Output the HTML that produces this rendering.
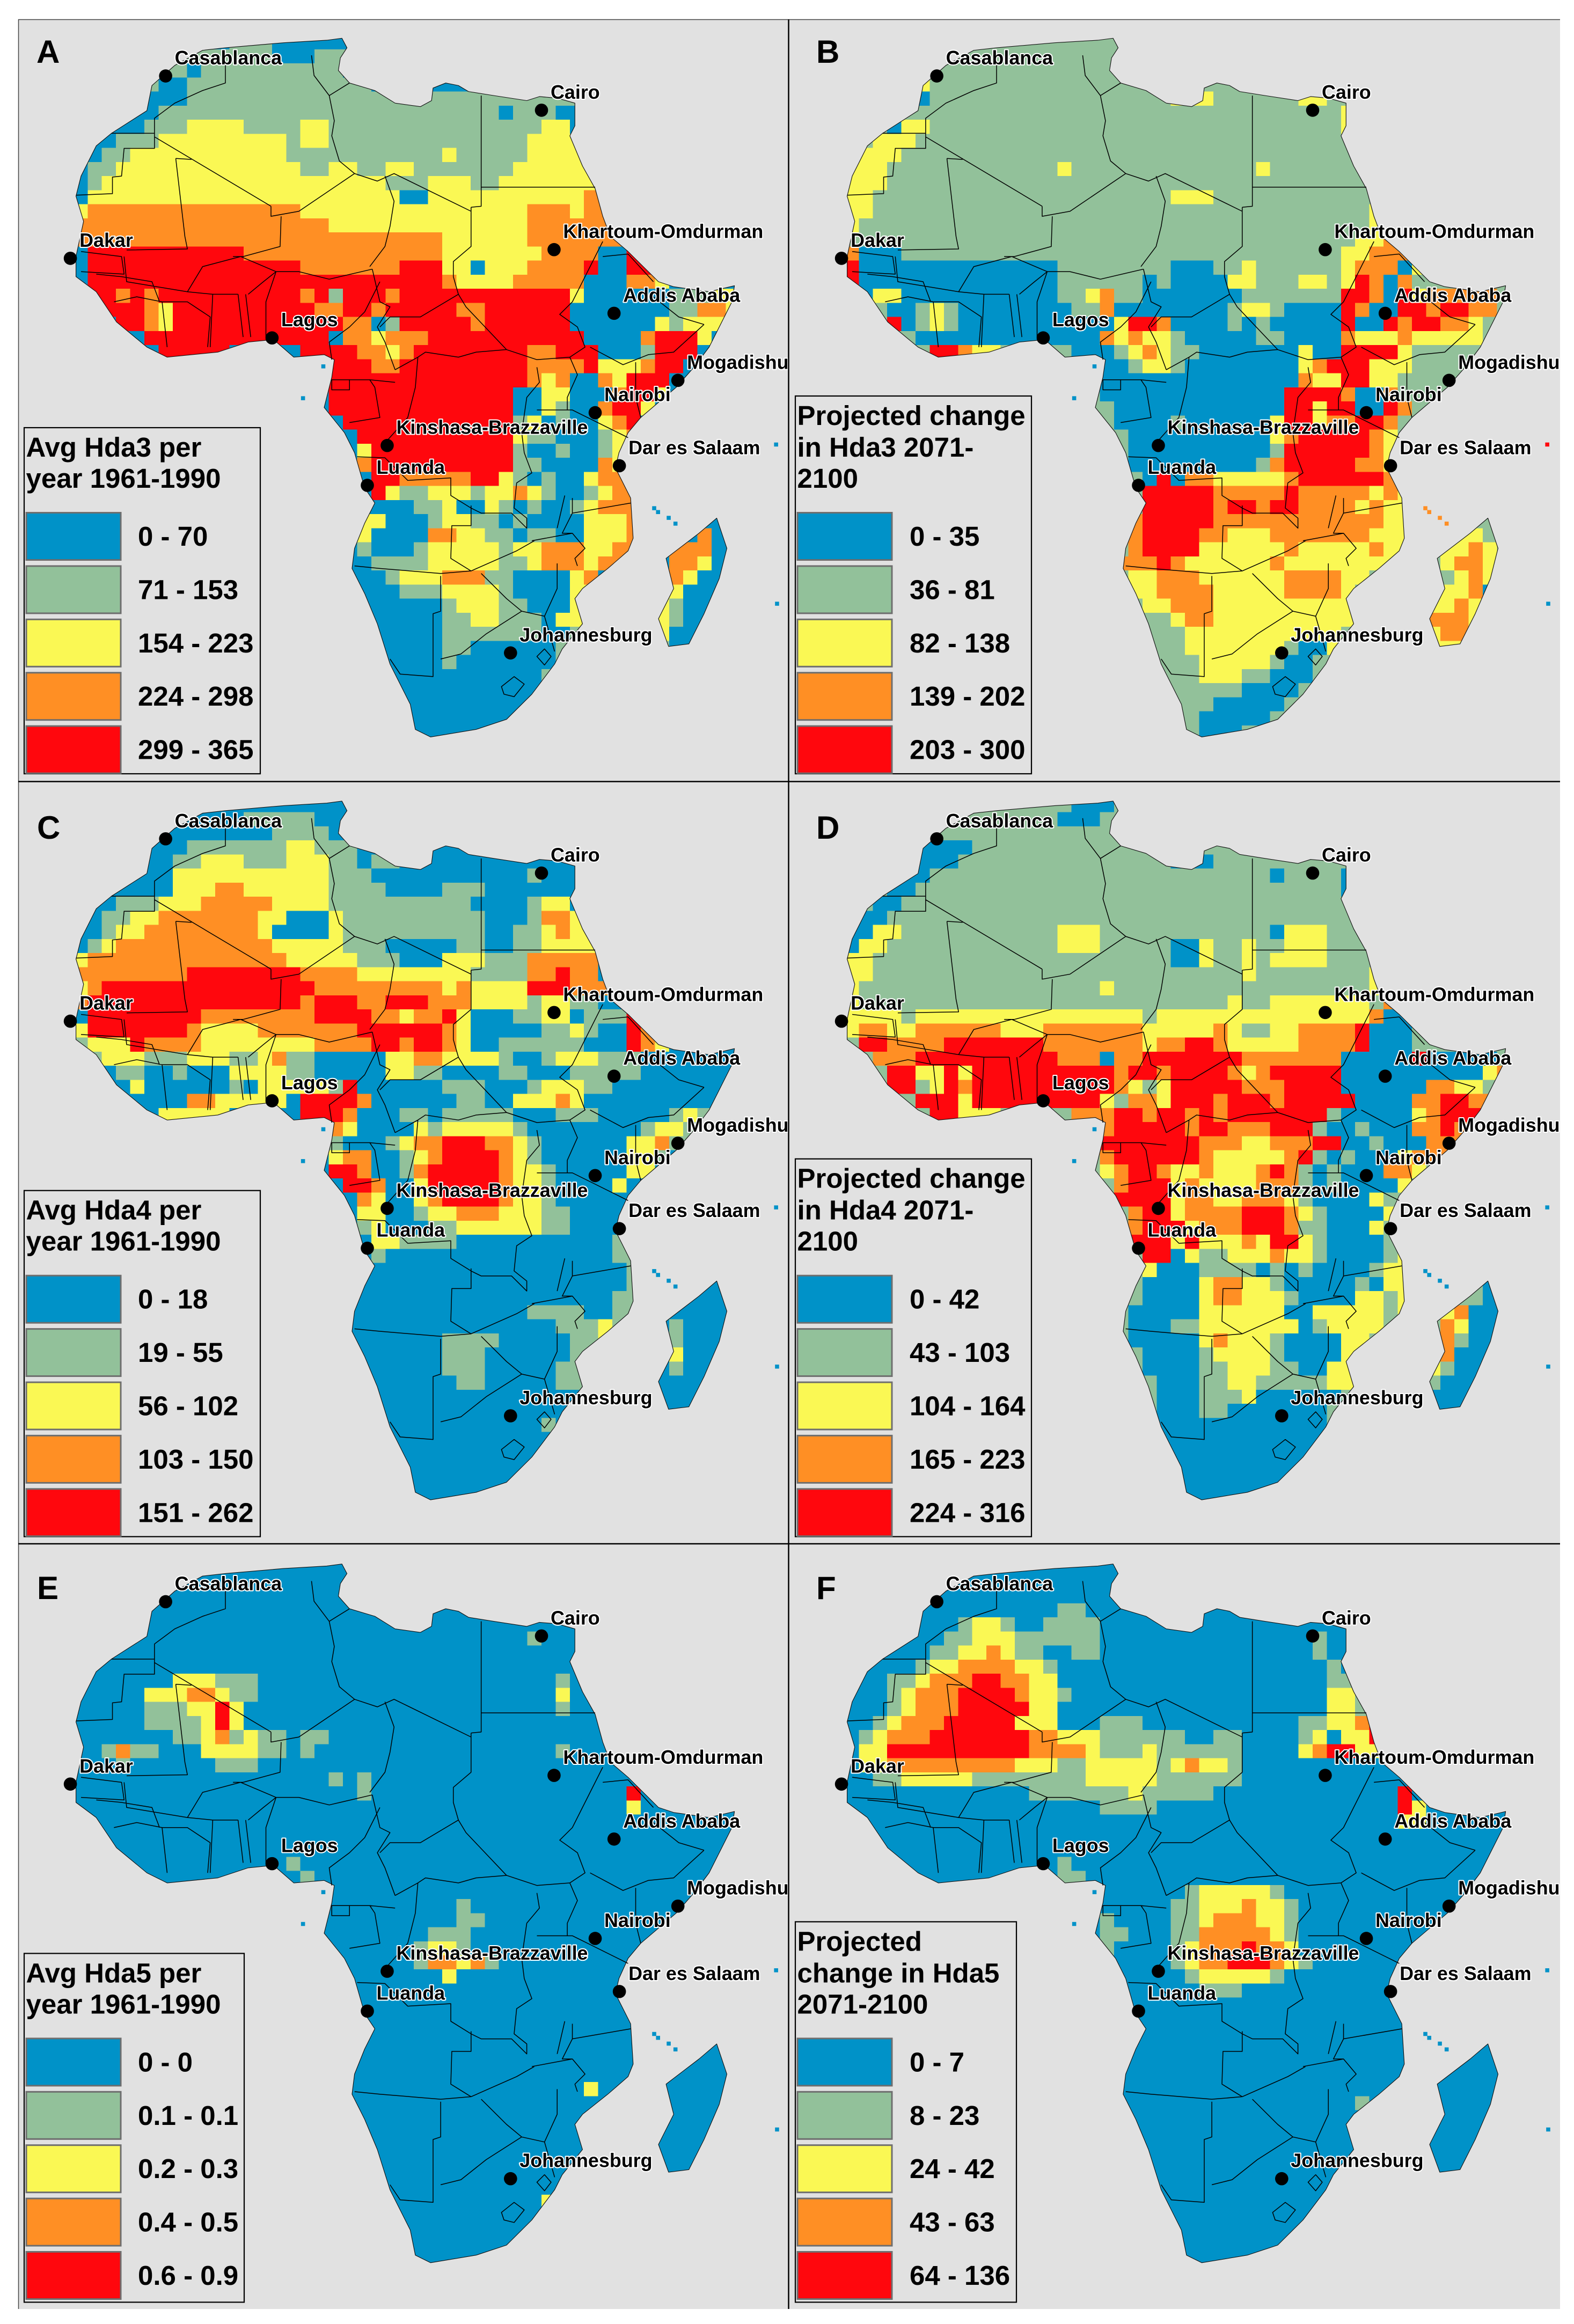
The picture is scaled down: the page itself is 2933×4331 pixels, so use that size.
<!DOCTYPE html>
<html>
<head>
<meta charset="utf-8">
<title>Africa heat days maps</title>
<style>
html,body{margin:0;padding:0;background:#fff;}
svg{display:block;}
text{font-family:"Liberation Sans",sans-serif;font-weight:bold;fill:#000;}
</style>
</head>
<body>
<svg id="fig" xmlns="http://www.w3.org/2000/svg" width="2933" height="4331" viewBox="0 0 2933 4331">
<defs>
<clipPath id="land"><path id="landPath" d=""/></clipPath>
</defs>
<rect x="0" y="0" width="2933" height="4331" fill="#ffffff"/>
<rect x="34" y="36" width="2873" height="4267" fill="#e1e1e1"/>
<g id="maps"></g>
<line x1="34" y1="36.5" x2="2907" y2="36.5" stroke="#444" stroke-width="1.5"/>
<line x1="34.5" y1="36" x2="34.5" y2="4303" stroke="#444" stroke-width="1.5"/>
<line x1="34" y1="1456.5" x2="2907" y2="1456.5" stroke="#000" stroke-width="2.5"/>
<line x1="34" y1="2877" x2="2907" y2="2877" stroke="#000" stroke-width="2.5"/>
<line x1="1469.5" y1="36" x2="1469.5" y2="4303" stroke="#000" stroke-width="2.5"/>
</svg>
<script>
/* class colours: b g y o r */
const classColors = {b:'#0092c8', g:'#92c19a', y:'#faf854', o:'#ff8f24', r:'#ff070d'};

/* heat-class grids: run-length rows, letter = class, number = cells, "." = panel default */
const rowsA = [
".11g3b6",".8g6b3g3",".6g2b1g10",".5g1b2g13",".5b3g28",".4b2g24b1g3b1",".3b2g3y4g4y2g15y2b1",".2b1g3y9g1y2g14y4",
".1b1g2y11g11y1g5y4","b1g2y13g2y2g2y2g7y6","b1g1y20g3y3g2y7","b1y22b2y11o2","y1o15y16o3y1o2","o18y14o6","o26y6o7",
"b1r11o14y7o4b2r1","b1r15o7r3y2b1y3o4r1b2r2","b1r25o1y4o5b3o2y1",".1r2o1r1o1r10o1r1g1r3o1r12y1b6g3y2",
".2r3o1y1r10o2r2o1r5o2r6b7g2o2y1",".3r2o1y1r12o2b1g1r5o1r6b6y1g1y3",".5r13b1o2y1o3r11b4o1r3y1",
".6r5.5r4o2y1o1r8o2r3b3g1r3",".18r3o2r9o4r1y3o1r2",".18r14o1y1o1b2o1y1r3",".18r13b2y2b3o1r2y1",
".18r13b2y1g1b2o1r2y1",".19r12g1y1b1g1b2y1o1r1",".20r11y1g2b3g1y1o1",".20y1r10g1b2g1b2g1y1",".20o1r10g2b4o1y1",
".21r2o5r2y1g1b1g1b2y1o2",".21r1y1g2y3g1y2o1y1g1b2g1y1o2",".22b2g2y1b2y1g1b1g1b2g1y1o3",".20y2b3g1y2g2b1g1b4y3o1",
".20y1b4o2y2g2b1g2b2y3o1",".20g1b3g1y5g1y2o3y2o2",".20b1g4y5g2y1o3y1o2",".20b2g1y3o3g2b4y1o1",".20b3g3y4g1b4y2",
".21b5g1y3g2b3y2",".21b5g2y2g3b1y3",".22b4g7b2g1y2",".22b4g2b6g2",".22b4g1b7g2",".23b10g1",".23b9",".23b8",".24b6",".24b3"];

const rowsB = [
"","","",".5y1",".5b1.17y3.6y2",".35y1",".3b1y2.29y1",".2y3",".1y3","y3.12y1.13y1","y3","y2.21y3","y2.35y1","y1.36y1",".36y2o1",
"o1b3.31y2o3b1y2","r1b14.8b3.2y1.6y1o3b1y1","r1b14.6b1.1b4y2.3y2.1y1r1o1b1o1",".1b1y2b11.2y1o1.2b7.7r2o1b1r1y1o5",
".3b2g1y1g1b8.2o1b8.1y2.1b4r1o1b2r2o1r2o2",".3r1b1g1y1g1b11y1r2o1b4.1b1.1b5r1b2r1o1r2o2y1",
".5b13o1y1o1y2.1b5.2b4o1y3o1y5",".6r2o1y2.5b3g1y1o1y1g2b7y1b2r4y1g3",".18b2g1y2g1b8y1o1r2r1y3g3",".18b14o1y2r2y2g3",
".18b13r4o1b2o1g3",".19b12r2y1r2b2r1o1g2",".19b4g1b6y1r2y1o2r2o1g1",".20b10y1o1r5o1y1",".20b10g1r6o1y1",".20b9g1o1r5o2y1",
".21b1r1b1o2y5o1r6o2y1",".21r5o5r1o5y1o1y1",".21r5o1r2o1r2o4y1o1y2",".20o1r5o12y3",".20o1r4o2y3o7y3",".20o1r4y6o1y5o1y3",
".19o3r1o1y6o1y8",".20y2o3y6o4y2g1",".20y2o4y5o4y1",".21y2o3y10",".22g1y1o2y10",".22g2y11",".22g2y7g1b2y1",".23g2y5g1b2g2",
".25y3.2b3",".28b4",".26b5",".25b5",".25b3"];

const rowsC = [
"",".12g5",".14g4",".8g7y2g3",".7g2y3g3y3g2.1g2",".7y11g3.11g1",".7y3o2y6g4.4g3",".3g3y3o5y4g10.4g1y2",
".2g2y2o7y2b3y1g10.3g1o2y1",".2g1y2o8y1b4y1g10.2g2y1o1y2",".1g1y1o11y5g3b5g2.2g2y4","y1o14y5g3b3y3g3o5","o8r8o4y8g4o2r1o2",
"y1o1r15o9y1o1y4r3o3","o1r15o1r3o2r3o3y4g1y2g2","b1r8o8r4o2y1o2r1y1b3g2y2b1g3r1","y1r7o1y4o7r6o1y1b5g2y1g1b2r1o1",
"g1y3r1o4y8o4r2o1r2o1y1b2g6b3r1o1y1",".1g1y3g3y3g2y1o1g2b5y2o2y4g1b2g1y3g3",".3g2b2g1b3y4g2b5y2g2b4g2b3g5",
".4y1b6g1b1y5g1r1b6g3b3g1y3g2",".5b3o2y3y2.1r4o1b6g2b2y3o1y1",".6y5.5r3o1b3g2b1g5b3g3.5g1y1g1",
".18o1y1b4y1g1y5g1.8g1y2g1",".18g1b3g1y1o2r3o2y1g1.6y2o1g2",".18y1o2b2g1y1o1r4o1y1g1.6y2g1",".18r2o1b2g1o1r5o1y2g1.5y2",
".19r2o1b2y1r5o1y2g1.4y1",".20o1y1b2y1o1r4o1y2g1",".20y2b2g1y2o3y3g2",".20g1y1b3g2y5y1g2",".21y2g4b11g1",".21g1b16g2",".39g1",".39g1",
".38g2",".32g4.2g2",".34g3y1g1",".26g4.5g2y1",".26g3.6g2",".26g3.5g2",".27g2.5g2","","",".33g1","","","","",""];

const rowsD = [
".16b3",".15b3","",".5b4",".5b3.15b3",".4b2.24b1.4b1",".3b2.30b1",".2b2",".1b2","b2y2.11y3.12b1y3","b1y2.12y3.5b2y1.2y1.2y3",
"y2.21b2y1.2y1.1y4","y2.26y1.8y1","y1.17y1.18y1","y1.26y1.2y7.1o1","y4.1y16.1y15o1b2.1","y1o2y2o6y3o7y5o1y1.2y2o4r1b3.1",
".1r2o4r7o7y1o2r2o1y5o4r1b3.1",".2o3r10o3b1o2r7o7b5r1b5",".3r2y2r1y1r10o1r2o1r4o1y1o1r5b10y1o1",
".3r2g1y1r1o1r10o1y1g1y1r5o3r4b6o2y2",".5r3y1r9y1g1o2y1r3o1r3o1r5b4o2r2o2",".6r2y3.5o3r2o1r2o1r1o1r7.1b5y1o1r3",
".18o1r5o1r2o3r3g1b2.1b3o2r1o1",".18r7o2o1y2o3r2b2.1b3o3",".18o1r6o1y5o1r1g1b1g1b3y1o3",
".18y1o1r2o1y1y1o1y3o1r1o1g1b1g1b3o2y1",".19o1r3y1o1y4o3g1b1g1b4y1g1",".19r4y1o2y2o3y1g1b4y1g1",".20o1r2y1o4r3o1y1g1b4y2",
".20o1r3y1o3r3o1g2b3y1",".20r3y1r1y3o1y1r2y1g1b4g1y2",".21r2b1y1g2y3o1y2g1b4g1y1",".21y1b3g2.2b1g1b1g1b4g1y2",
".20g1b4y1o2y2g1b5g1b1y2",".20g1b4y1o2y3g1b3b1y2g1y2",".20b5y6b2y5g1y2",".20b3g2y7b1g1y4g1",".20b5y1o1y3g1b4y2",
".21b4g1y4g1b4y2",".21b4g2y3g2b2y3",".22b3g2y2g5y3",".22b3.3y1b6.1",".22b3.2b7",".22b12",".22b13",".22b15",".22b15",".23b15",".24b15"];

const rowsE = [
"","","","","",".32g1","","",".7y3g3.21g1",".5y3o2y1g2.21y1",".5g3y2r1y1.22g1",".5g4y1r1y1",".7g2y1o1g1y1g2.1g1g1",
".2g1o1g2.3y4g2.1g1.17g1",".3g1.6g3",".18g1.1g1",".20g1.18r1",".39y1","","","",".15g1",".16g1","",".27g1",".27g2",".25g3",
".24g1y2g1",".24g1o2y1o1g1",".26y1","","","","","","","",".36y1","","","","","","","",".33y1","","",""];

const rowsF = [
"","","",".15g2",".8g1y2g1.2g4",".7g2y3g6.15g1",".6g2y2o1y1g2.2g2.15g1",".5g1y2o4y2g1.19g1",".3g2y1o3r2o2y2.19g2",
".3g1y1o3r4o1y2g1.18y2g1",".3g1y1o3r5y2.19y2g1y1",".2g1y1o3r5y3.3g3.11g2y2o1r1",
".1g1y1o3r7o2y3g6.2g2.4g1y1b1y2r1y1",".1y2r10o4y1g3y1g6.4y1o1r2y2",".1y2o9y3g2y5g1y1o1y2g1",".2g2y5g8y5g6",".13g7y1g5.13r1",
".18g4.17r1y1",".39y2","","",".15g1",".15g2",".24g1y5g1",".23g2y3o1y2g1",".18g1.4g2y1o3y2g1",".18g2.3g2o5y1g1",
".18g1.4g1y1o3r1o2y1",".23g1y1o2r3o1y1g1",".24g1y5g1",".25g3","","","","","","","",".36g1","","","","","","","","","","",""];

/* Madagascar rows start at column 41, row 34 */
const madA = [".4b2",".3o1b2",".1o3b2",".1o2y1b2",".1o1y1b3",".1y1b4","y1g1b3","y1g1b3","y1b4","g1b3"];
const madB = [".4g1y1",".2y2g2",".1y2o1y1g1",".1y1o2y2",".1g1y1o1y2",".1y2o1b1y1","y2o1y2","o3y2","y1o2y1","y3"];
const madC = ["","",  "",".1g1",".1g1",".1y1",".1g1","","",""];
const madD = [".4b2",".3g1b2",".1y1o1b3",".1o1y1b3",".1o1g1b3",".1o1b4","y1g1b3","g1b3","b4","b3"];
const madE = [];
const madF = [];

const defaultClass = ['b','g','b','g','b','b'];
const panelLetters = ['A','B','C','D','E','F'];

/* legend content */
const legendTitles = [
 ["Avg Hda3 per","year 1961-1990"],
 ["Projected change","in Hda3 2071-","2100"],
 ["Avg Hda4 per","year 1961-1990"],
 ["Projected change","in Hda4 2071-","2100"],
 ["Avg Hda5 per","year 1961-1990"],
 ["Projected","change in Hda5","2071-2100"]];
const legendValues = [
 ["0 - 70","71 - 153","154 - 223","224 - 298","299 - 365"],
 ["0 - 35","36 - 81","82 - 138","139 - 202","203 - 300"],
 ["0 - 18","19 - 55","56 - 102","103 - 150","151 - 262"],
 ["0 - 42","43 - 103","104 - 164","165 - 223","224 - 316"],
 ["0 - 0","0.1 - 0.1","0.2 - 0.3","0.4 - 0.5","0.6 - 0.9"],
 ["0 - 7","8 - 23","24 - 42","43 - 63","64 - 136"]];
const legendClasses = ['b','g','y','o','r'];

/* cities: name, longitude, latitude */
const cityNames = ["Casablanca","Cairo","Khartoum-Omdurman","Dakar","Addis Ababa","Lagos","Mogadishu","Nairobi","Kinshasa-Brazzaville","Dar es Salaam","Luanda","Johannesburg"];
const cityLon = [-7.6,31.25,32.55,-17.45,38.75,3.4,45.35,36.8,15.3,39.3,13.25,28.05];
const cityLat = [33.6,30.05,15.6,14.7,9.0,6.45,2.05,-1.3,-4.7,-6.8,-8.83,-26.2];

/* small islands: longitude, latitude */
const islandLon = [43.3,44.4,45.1,55.5,55.6,8.7,6.6,42.9];
const islandLat = [-11.6,-12.2,-12.8,-4.6,-21.1,3.5,0.2,-11.2];
/* island class in panel B; the other panels use blue */
const islandClassB = ['o','o','o','r','b','b','b','o'];

/* coast and borders in map units */
const coastPath = "M645,80 675,76 685,95 672,115 668,140 690,165 740,180 780,205 830,212 852,200 855,175 880,165 905,170 925,182 975,190 1040,200 1065,192 1100,195 1135,205 1135,250 1125,270 1150,330 1175,375 1190,430 1205,470 1240,500 1270,530 1300,560 1330,570 1400,580 1450,568 1445,600 1425,640 1400,690 1370,730 1335,770 1300,800 1265,830 1240,860 1222,900 1215,930 1230,960 1245,990 1250,1070 1240,1095 1200,1130 1150,1170 1135,1190 1150,1240 1110,1290 1095,1320 1050,1380 1000,1430 940,1450 850,1465 820,1450 810,1400 770,1320 745,1240 720,1180 695,1130 700,1090 720,1040 740,1000 720,970 700,900 680,860 640,810 655,750 660,715 640,705 580,710 540,675 490,680 430,700 330,710 290,690 230,640 190,580 150,550 150,510 165,440 150,390 160,350 190,290 220,265 290,220 300,170 345,130 400,100 445,95 560,85Z M1415,1030 1435,1090 1420,1150 1390,1220 1360,1280 1320,1285 1300,1230 1330,1170 1315,1110 1380,1060Z";
const borderPath = "M305,265 305,235 345,205 400,180 445,165 445,130 440,100 M220,265 305,265 305,295 245,295 240,350 222,352 222,385 150,388 M305,272 535,410 M347,315 365,470 370,495 250,497 M347,315 378,317 M615,110 620,150 650,190 660,240 655,270 670,320 700,345 M650,190 690,165 M700,345 745,360 778,345 930,420 M950,190 950,410 930,412 M950,372 1175,372 M535,410 535,430 590,420 700,345 M555,430 553,490 480,510 460,510 M760,350 778,400 770,450 760,490 730,530 M545,540 590,540 650,555 735,535 M930,412 930,490 895,520 895,550 905,585 M905,585 880,600 830,630 770,630 750,650 M735,535 750,600 770,610 745,650 760,680 780,735 M750,560 720,620 690,650 650,680 655,715 M525,670 525,600 545,540 M495,670 485,585 M480,670 470,585 M415,690 420,585 470,585 M370,580 420,585 M370,580 400,530 475,510 545,540 520,560 490,585 M320,600 370,600 415,630 410,690 M225,600 270,590 320,600 330,690 M190,545 240,550 300,560 315,600 M160,500 240,510 245,545 160,540 M245,510 250,560 370,580 M1190,480 1170,520 1130,600 1105,625 1140,650 1155,690 1125,710 1060,715 1000,695 920,610 905,585 M1000,695 940,700 905,710 840,700 825,710 780,735 M1390,645 1340,630 1290,590 M1390,645 1330,700 1280,705 1230,725 1165,690 M1190,510 1240,505 1290,560 M1255,720 1255,790 1265,830 M1240,870 1130,815 1060,815 M1125,710 1140,745 1120,790 1120,815 M1060,730 1065,760 1040,790 1030,860 1035,900 1050,940 1020,960 1015,1010 1040,1030 1040,1050 1010,1020 950,1020 930,1010 890,985 890,950 805,955 760,910 705,908 M765,875 805,830 820,770 825,710 M690,840 750,830 740,770 730,755 780,760 M655,755 690,755 690,775 655,775Z M655,755 730,755 M700,1125 750,1130 870,1140 930,1135 890,1110 892,1045 930,1045 930,1005 M870,1145 870,1215 855,1220 855,1345 790,1340 770,1310 M950,1140 1000,1190 1030,1215 1075,1225 M870,1310 910,1300 960,1260 1030,1215 M930,1135 1020,1095 1055,1075 M1100,1120 1100,1170 1075,1225 M1050,1075 1130,1060 1155,1090 1135,1110 1140,1125 M1130,990 1130,1020 1245,1000 M1130,1020 1110,1060 1130,1060 M1115,985 1100,1050 M1095,1295 1075,1225 M990,1365 1015,1345 1035,1360 1015,1385 995,1380Z M1060,1305 1075,1290 1088,1305 1075,1322Z";

const SVGNS = "http://www.w3.org/2000/svg";
const gridPitch = 28, gridX0 = 145, gridY0 = 70;
const mapSX = 1/1.0595, mapSY = 1/1.0667;
const colStep = 1437, rowStep = 1421.7;

function colX(i){ return gridX0 + i*gridPitch; }
function rowY(j){ return gridY0 + j*gridPitch; }
function lonToX(lon){ return 327 + (lon + 7.6)*19.1; }
function latToY(lat){ return 151 + (33.6 - lat)*19.18; }
function make(tag, attrs){
  const el = document.createElementNS(SVGNS, tag);
  for (const k in attrs) el.setAttribute(k, attrs[k]);
  return el;
}
function drawRows(parent, rows, startCol, startRow){
  rows.forEach(function(row, j){
    let col = startCol;
    const re = /([.bgyor])(\d+)/g;
    let m;
    while ((m = re.exec(row))){
      const n = parseInt(m[2], 10);
      if (m[1] !== '.'){
        const cell = make('rect', {x:colX(col), y:rowY(j+startRow), width:n*gridPitch, height:gridPitch, fill:classColors[m[1]], 'shape-rendering':'crispEdges'});
        
        
        parent.appendChild(cell);
      }
      col += n;
    }
  });
}

document.getElementById('landPath').setAttribute('d', coastPath);
const maps = document.getElementById('maps');
const allRows = [rowsA,rowsB,rowsC,rowsD,rowsE,rowsF];
const allMad = [madA,madB,madC,madD,madE,madF];
const letterX = [68,1521,69,1521,69,1521];
const letterY = [117,117,1563,1563,2980,2980];

allRows.forEach(function(rows, p){
  const dx = (p % 2)*colStep, rowIdx = Math.floor(p/2), dy = rowIdx*rowStep;
  const panel = make('g', {});
  
  
  maps.appendChild(panel);

  const mapG = make('g', {transform:'translate('+dx+','+dy+') scale('+mapSX+','+mapSY+')'});
  
  
  panel.appendChild(mapG);

  const clipG = make('g', {'clip-path':'url(#land)'});
  
  
  mapG.appendChild(clipG);

  const base = make('path', {d:coastPath, fill:classColors[defaultClass[p]]});
  
  
  clipG.appendChild(base);
  drawRows(clipG, rows, 0, 0);
  drawRows(clipG, allMad[p], 41, 34);

  const coast = make('path', {d:coastPath, fill:'none', stroke:'#111', 'stroke-width':1.2, 'stroke-linejoin':'round'});
  
  
  mapG.appendChild(coast);

  const borders = make('path', {d:borderPath, fill:'none', stroke:'#000', 'stroke-width':1.6, 'stroke-linejoin':'round'});
  
  
  mapG.appendChild(borders);

  islandLon.forEach(function(lon, k){
    const isl = make('rect', {x:lonToX(lon)-4, y:latToY(islandLat[k])-4, width:8, height:8, fill:classColors[p===1 ? islandClassB[k] : 'b']});
    
    
    mapG.appendChild(isl);
  });

  /* city markers and labels */
  cityNames.forEach(function(name, k){
    const cx = dx + lonToX(cityLon[k])*mapSX, cy = dy + latToY(cityLat[k])*mapSY;
    const dot = make('circle', {cx:cx, cy:cy, r:12.3, fill:'#000'});
    
    
    panel.appendChild(dot);
    const lab = make('text', {x:cx+17, y:cy-21.5, 'font-size':35.9, stroke:'#fff', 'stroke-width':4, 'paint-order':'stroke', 'stroke-linejoin':'round'});
    
    
    lab.textContent = name;
    panel.appendChild(lab);
  });

  /* panel letter */
  const letter = make('text', {x:letterX[p], y:letterY[p], 'font-size':60});
  
  
  letter.textContent = panelLetters[p];
  panel.appendChild(letter);

  /* legend */
  const isRight = p % 2 === 1;
  const titleLines = legendTitles[p];
  const boxLeft = isRight ? 1482 : 45;
  const boxRight = p===5 ? 1894 : (p===4 ? 455 : (isRight ? 1922 : 485));
  const boxTop = dy + (titleLines.length===3 ? 738 : 797);
  const boxBottom = dy + (rowIdx===2 ? 1447 : 1442);
  const legend = make('g', {});
  
  
  panel.appendChild(legend);

  const box = make('rect', {x:boxLeft, y:boxTop, width:boxRight-boxLeft, height:boxBottom-boxTop, fill:'#e1e1e1', stroke:'#000', 'stroke-width':2.2});
  
  
  legend.appendChild(box);

  const baselines = titleLines.length===3 ? [792,851,909] : [851,909];
  titleLines.forEach(function(line, k){
    const t = make('text', {x:boxLeft+3.5, y:dy+baselines[k], 'font-size':51});
    
    
    t.textContent = line;
    legend.appendChild(t);
  });

  legendValues[p].forEach(function(val, k){
    const top = dy + 955.5 + k*99.4;
    const sw = make('rect', {x:boxLeft+4, y:top, width:176, height:88, fill:classColors[legendClasses[k]], stroke:'#6e6e6e', 'stroke-width':3});
    
    
    legend.appendChild(sw);
    const tv = make('text', {x:isRight ? 1695 : 257, y:top+61.5, 'font-size':51});
    
    
    tv.textContent = val;
    legend.appendChild(tv);
  });
});
</script>
</body>
</html>
